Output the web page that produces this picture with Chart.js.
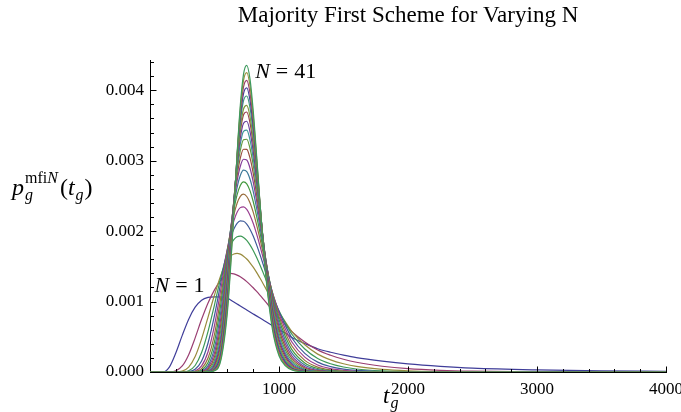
<!DOCTYPE html>
<html>
<head>
<meta charset="utf-8">
<title>Majority First Scheme for Varying N</title>
<script src="https://cdn.jsdelivr.net/npm/chart.js@4.4.0/dist/chart.umd.min.js"></script>
<style>
  html, body { margin: 0; padding: 0; background: #fff; }
  #wrap { width: 681px; height: 412px; }
</style>
</head>
<body>
<div id="wrap"><canvas id="chart" width="681" height="412"></canvas></div>
<script>
// t_g sample points shared by every curve
const tValues = [0, 100, 150, 200, 250, 300, 350, 400, 450, 500,
  550, 600, 625, 650, 675, 700, 725, 750, 775, 800,
  825, 850, 875, 900, 950, 1000, 1050, 1100, 1200, 1300,
  1400, 1500, 1600, 1800, 2000, 2250, 2500, 3000, 3500, 4000];

// p_g values for each N, written in units of 0.001
const yUnit = 0.001;
const pN1 = [0, 0, 0.070, 0.270, 0.520, 0.750, 0.920, 1.020, 1.060, 1.068,
  1.065, 1.050, 1.022, 0.994, 0.966, 0.938, 0.909, 0.881, 0.853, 0.825,
  0.797, 0.769, 0.741, 0.713, 0.656, 0.600, 0.550, 0.490, 0.405, 0.330,
  0.280, 0.240, 0.205, 0.155, 0.115, 0.080, 0.055, 0.030, 0.016, 0.009];
const pN3 = [0, 0, 0.001, 0.016, 0.086, 0.246, 0.485, 0.748, 0.981, 1.166,
  1.307, 1.397, 1.400, 1.393, 1.376, 1.352, 1.320, 1.283, 1.241, 1.196,
  1.147, 1.096, 1.043, 0.988, 0.878, 0.769, 0.674, 0.572, 0.427, 0.312,
  0.237, 0.181, 0.138, 0.082, 0.047, 0.024, 0.012, 0.003, 0.001, 0];
const pN5 = [0, 0, 0, 0.001, 0.012, 0.069, 0.219, 0.471, 0.780, 1.093,
  1.377, 1.596, 1.647, 1.676, 1.684, 1.673, 1.645, 1.605, 1.551, 1.488,
  1.418, 1.341, 1.261, 1.177, 1.008, 0.847, 0.709, 0.574, 0.386, 0.254,
  0.172, 0.117, 0.079, 0.037, 0.017, 0.006, 0.002, 0, 0, 0];
const pN7 = [0, 0, 0, 0, 0.002, 0.018, 0.092, 0.276, 0.577, 0.954,
  1.351, 1.698, 1.804, 1.878, 1.919, 1.929, 1.911, 1.869, 1.806, 1.726,
  1.632, 1.529, 1.419, 1.305, 1.079, 0.868, 0.695, 0.536, 0.326, 0.192,
  0.117, 0.071, 0.043, 0.016, 0.005, 0.001, 0, 0, 0, 0];
const pN9 = [0, 0, 0, 0, 0, 0.005, 0.038, 0.156, 0.412, 0.804,
  1.279, 1.743, 1.907, 2.030, 2.110, 2.146, 2.141, 2.100, 2.028, 1.930,
  1.812, 1.681, 1.541, 1.396, 1.114, 0.858, 0.658, 0.483, 0.265, 0.140,
  0.076, 0.041, 0.022, 0.006, 0.002, 0, 0, 0, 0, 0];
const pN11 = [0, 0, 0, 0, 0, 0.001, 0.015, 0.086, 0.288, 0.662,
  1.184, 1.749, 1.971, 2.146, 2.268, 2.334, 2.345, 2.308, 2.227, 2.111,
  1.968, 1.807, 1.636, 1.461, 1.125, 0.830, 0.608, 0.426, 0.211, 0.100,
  0.049, 0.024, 0.011, 0.003, 0.001, 0, 0, 0, 0, 0];
const pN13 = [0, 0, 0, 0, 0, 0, 0.006, 0.047, 0.198, 0.536,
  1.078, 1.726, 2.002, 2.230, 2.397, 2.495, 2.525, 2.492, 2.403, 2.269,
  2.100, 1.910, 1.708, 1.502, 1.116, 0.789, 0.553, 0.369, 0.165, 0.070,
  0.031, 0.013, 0.006, 0.001, 0, 0, 0, 0, 0, 0];
const pN15 = [0, 0, 0, 0, 0, 0, 0.002, 0.025, 0.135, 0.431,
  0.974, 1.690, 2.019, 2.300, 2.514, 2.648, 2.699, 2.672, 2.575, 2.421,
  2.225, 2.004, 1.770, 1.534, 1.099, 0.745, 0.499, 0.317, 0.128, 0.049,
  0.019, 0.007, 0.003, 0, 0, 0, 0, 0, 0, 0];
const pN17 = [0, 0, 0, 0, 0, 0, 0.001, 0.014, 0.091, 0.344,
  0.873, 1.644, 2.022, 2.356, 2.619, 2.791, 2.865, 2.845, 2.740, 2.566,
  2.341, 2.088, 1.821, 1.555, 1.075, 0.698, 0.447, 0.271, 0.098, 0.034,
  0.012, 0.004, 0.001, 0, 0, 0, 0, 0, 0, 0];
const pN19 = [0, 0, 0, 0, 0, 0, 0, 0.007, 0.061, 0.272,
  0.778, 1.589, 2.012, 2.397, 2.710, 2.922, 3.021, 3.009, 2.896, 2.701,
  2.447, 2.161, 1.862, 1.566, 1.045, 0.650, 0.398, 0.230, 0.075, 0.023,
  0.007, 0.002, 0.001, 0, 0, 0, 0, 0, 0, 0];
const pN21 = [0, 0, 0, 0, 0, 0, 0, 0.004, 0.041, 0.214,
  0.689, 1.524, 1.988, 2.422, 2.785, 3.038, 3.163, 3.160, 3.039, 2.823,
  2.540, 2.221, 1.890, 1.566, 1.008, 0.600, 0.352, 0.193, 0.057, 0.016,
  0.004, 0.001, 0, 0, 0, 0, 0, 0, 0, 0];
const pN23 = [0, 0, 0, 0, 0, 0, 0, 0.002, 0.027, 0.168,
  0.607, 1.456, 1.955, 2.437, 2.849, 3.145, 3.298, 3.305, 3.177, 2.939,
  2.625, 2.273, 1.910, 1.560, 0.969, 0.553, 0.309, 0.162, 0.043, 0.011,
  0.003, 0.001, 0, 0, 0, 0, 0, 0, 0, 0];
const pN25 = [0, 0, 0, 0, 0, 0, 0, 0.001, 0.018, 0.131,
  0.531, 1.382, 1.910, 2.435, 2.896, 3.234, 3.416, 3.433, 3.297, 3.038,
  2.695, 2.311, 1.917, 1.543, 0.924, 0.505, 0.271, 0.135, 0.033, 0.007,
  0.002, 0, 0, 0, 0, 0, 0, 0, 0, 0];
const pN27 = [0, 0, 0, 0, 0, 0, 0, 0.001, 0.012, 0.102,
  0.464, 1.309, 1.863, 2.429, 2.938, 3.320, 3.531, 3.560, 3.417, 3.136,
  2.762, 2.345, 1.922, 1.523, 0.881, 0.461, 0.236, 0.112, 0.024, 0.005,
  0.001, 0, 0, 0, 0, 0, 0, 0, 0, 0];
const pN29 = [0, 0, 0, 0, 0, 0, 0, 0, 0.008, 0.079,
  0.405, 1.240, 1.818, 2.424, 2.981, 3.408, 3.651, 3.692, 3.541, 3.237,
  2.831, 2.380, 1.926, 1.504, 0.839, 0.421, 0.206, 0.093, 0.018, 0.003,
  0.001, 0, 0, 0, 0, 0, 0, 0, 0, 0];
const pN31 = [0, 0, 0, 0, 0, 0, 0, 0, 0.005, 0.061,
  0.350, 1.162, 1.754, 2.392, 2.992, 3.460, 3.734, 3.787, 3.630, 3.304,
  2.869, 2.388, 1.909, 1.469, 0.791, 0.380, 0.178, 0.077, 0.014, 0.002,
  0, 0, 0, 0, 0, 0, 0, 0, 0, 0];
const pN33 = [0, 0, 0, 0, 0, 0, 0, 0, 0.003, 0.047,
  0.306, 1.098, 1.707, 2.381, 3.029, 3.545, 3.852, 3.919, 3.754, 3.404,
  2.934, 2.419, 1.910, 1.448, 0.752, 0.346, 0.155, 0.064, 0.010, 0.002,
  0, 0, 0, 0, 0, 0, 0, 0, 0, 0];
const pN35 = [0, 0, 0, 0, 0, 0, 0, 0, 0.002, 0.036,
  0.265, 1.032, 1.653, 2.358, 3.050, 3.611, 3.952, 4.033, 3.861, 3.486,
  2.984, 2.436, 1.899, 1.419, 0.711, 0.314, 0.134, 0.053, 0.008, 0.001,
  0, 0, 0, 0, 0, 0, 0, 0, 0, 0];
const pN37 = [0, 0, 0, 0, 0, 0, 0, 0, 0.001, 0.028,
  0.229, 0.969, 1.597, 2.330, 3.064, 3.671, 4.047, 4.142, 3.963, 3.564,
  3.029, 2.448, 1.885, 1.387, 0.671, 0.283, 0.116, 0.043, 0.006, 0.001,
  0, 0, 0, 0, 0, 0, 0, 0, 0, 0];
const pN39 = [0, 0, 0, 0, 0, 0, 0, 0, 0.001, 0.022,
  0.198, 0.908, 1.541, 2.300, 3.077, 3.729, 4.140, 4.251, 4.064, 3.640,
  3.072, 2.458, 1.870, 1.356, 0.632, 0.256, 0.100, 0.036, 0.004, 0.001,
  0, 0, 0, 0, 0, 0, 0, 0, 0, 0];
const pN41 = [0, 0, 0, 0, 0, 0, 0, 0, 0.001, 0.017,
  0.171, 0.850, 1.485, 2.267, 3.084, 3.782, 4.229, 4.355, 4.161, 3.712,
  3.110, 2.465, 1.851, 1.323, 0.595, 0.231, 0.086, 0.029, 0.003, 0,
  0, 0, 0, 0, 0, 0, 0, 0, 0, 0];

const nValues = [1, 3, 5, 7, 9, 11, 13, 15, 17, 19, 21, 23, 25, 27, 29, 31, 33, 35, 37, 39, 41];
const series = [pN1, pN3, pN5, pN7, pN9, pN11, pN13, pN15, pN17, pN19, pN21,
  pN23, pN25, pN27, pN29, pN31, pN33, pN35, pN37, pN39, pN41];

// axis ticks
const xTicks = [1000, 2000, 3000, 4000];
const yTicks = [0, 0.001, 0.002, 0.003, 0.004];

const serif = '"Liberation Serif", "Times New Roman", serif';

// Mathematica-style default palette: golden-ratio hue steps, S = V = 0.6
function hsv(h, s, v) {
  const i = Math.floor(h * 6), f = h * 6 - i;
  const p = v * (1 - s), q = v * (1 - f * s), t = v * (1 - (1 - f) * s);
  const [r, g, b] = [[v, t, p], [q, v, p], [p, v, t], [p, q, v], [t, p, v], [v, p, q]][i % 6];
  return `rgb(${Math.round(r * 255)},${Math.round(g * 255)},${Math.round(b * 255)})`;
}
const palette = nValues.map((n, k) => hsv((0.67 + 0.236068 * k) % 1, 0.6, 0.6));

// draw a run of text pieces (italic / sub / superscript) left to right
function drawRuns(ctx, x, y, runs) {
  for (const r of runs) {
    ctx.font = `${r.italic ? 'italic ' : ''}${r.size}px ${serif}`;
    ctx.fillText(r.text, x, y + (r.dy || 0));
    x += ctx.measureText(r.text).width + (r.gap || 0);
  }
  return x;
}

// inward tick marks plus the math-style labels
const axisDecor = {
  id: 'axisDecor',
  afterDraw(chart) {
    const { ctx, scales: { x, y } } = chart;
    const x0 = Math.round(x.getPixelForValue(0)) + 0.5;
    const y0 = Math.round(y.getPixelForValue(0)) + 0.5;
    ctx.save();
    ctx.strokeStyle = '#000';
    ctx.lineWidth = 1;
    ctx.beginPath();
    for (let t = 200; t <= 4000; t += 200) {
      const px = Math.round(x.getPixelForValue(t)) + 0.5;
      const len = t % 1000 === 0 ? 6 : 3.5;
      ctx.moveTo(px, y0);
      ctx.lineTo(px, y0 - len);
    }
    for (let i = 1; i <= 22; i++) {
      const py = Math.round(y.getPixelForValue(i * 0.0002)) + 0.5;
      const len = i % 5 === 0 ? 6 : 3.5;
      ctx.moveTo(x0, py);
      ctx.lineTo(x0 + len, py);
    }
    ctx.stroke();

    ctx.fillStyle = '#000';
    ctx.textBaseline = 'alphabetic';
    ctx.textAlign = 'left';

    // curve annotations
    const eq = (n) => [
      { text: 'N', italic: true, size: 22, gap: 6 },
      { text: '=', size: 22, gap: 6 },
      { text: String(n), size: 22 }
    ];
    drawRuns(ctx, x.getPixelForValue(815), y.getPixelForValue(0.00418), eq(41));
    drawRuns(ctx, x.getPixelForValue(35), y.getPixelForValue(0.001135), eq(1));

    // y axis label  p_g^{mfiN}(t_g)
    const by = 195;
    const cx = drawRuns(ctx, 12, by, [{ text: 'p', italic: true, size: 24, gap: 1 }]);
    const supEnd = drawRuns(ctx, cx, by, [
      { text: 'mfi', size: 16, dy: -12 },
      { text: 'N', italic: true, size: 16, dy: -12, gap: 2 }
    ]);
    drawRuns(ctx, cx, by, [{ text: 'g', italic: true, size: 16, dy: 5 }]);
    drawRuns(ctx, supEnd, by, [
      { text: '(', size: 24 },
      { text: 't', italic: true, size: 24, gap: 1 },
      { text: 'g', italic: true, size: 16, dy: 5, gap: 1 },
      { text: ')', size: 24 }
    ]);

    // x axis label  t_g
    drawRuns(ctx, 383, 403, [
      { text: 't', italic: true, size: 23, gap: 1 },
      { text: 'g', italic: true, size: 16, dy: 5 }
    ]);
    ctx.restore();
  }
};

const datasets = series.map((vals, k) => ({
  label: 'N = ' + nValues[k],
  data: tValues.map((t, i) => ({ x: t, y: vals[i] * yUnit })),
  borderColor: palette[k],
  borderWidth: 1.2,
  pointRadius: 0,
  fill: false,
  cubicInterpolationMode: 'monotone',
  order: series.length - 1 - k
}));

new Chart(document.getElementById('chart'), {
  type: 'line',
  data: { datasets },
  options: {
    responsive: false,
    animation: false,
    events: [],
    devicePixelRatio: 1,
    layout: { padding: { left: 0, right: 15, top: 0, bottom: 0 } },
    plugins: {
      legend: { display: false },
      tooltip: { enabled: false },
      title: {
        display: true,
        text: 'Majority First Scheme for Varying N',
        fullSize: false,
        color: '#000',
        font: { family: serif, size: 23, weight: 'normal', lineHeight: 1.2 },
        padding: { top: 2, bottom: 30.4 }
      }
    },
    scales: {
      x: {
        type: 'linear',
        min: 0,
        max: 4000,
        grid: { display: false, drawTicks: false },
        border: { display: true, color: '#000', width: 1 },
        ticks: {
          color: '#000',
          font: { family: serif, size: 17 },
          padding: 7,
          maxRotation: 0,
          autoSkip: false,
          callback: v => String(v)
        },
        afterBuildTicks: s => { s.ticks = xTicks.map(v => ({ value: v })); },
        afterFit: s => { s.height = 40; s.paddingLeft = 0; s.paddingRight = 0; }
      },
      y: {
        type: 'linear',
        min: 0,
        max: 0.00443,
        grid: { display: false, drawTicks: false },
        border: { display: true, color: '#000', width: 1 },
        ticks: {
          color: '#000',
          font: { family: serif, size: 17 },
          padding: 6,
          callback: v => Number(v).toFixed(3)
        },
        afterBuildTicks: s => { s.ticks = yTicks.map(v => ({ value: v })); },
        afterFit: s => { s.width = 150; s.paddingTop = 0; s.paddingBottom = 0; }
      }
    }
  },
  plugins: [axisDecor]
});
</script>
</body>
</html>
